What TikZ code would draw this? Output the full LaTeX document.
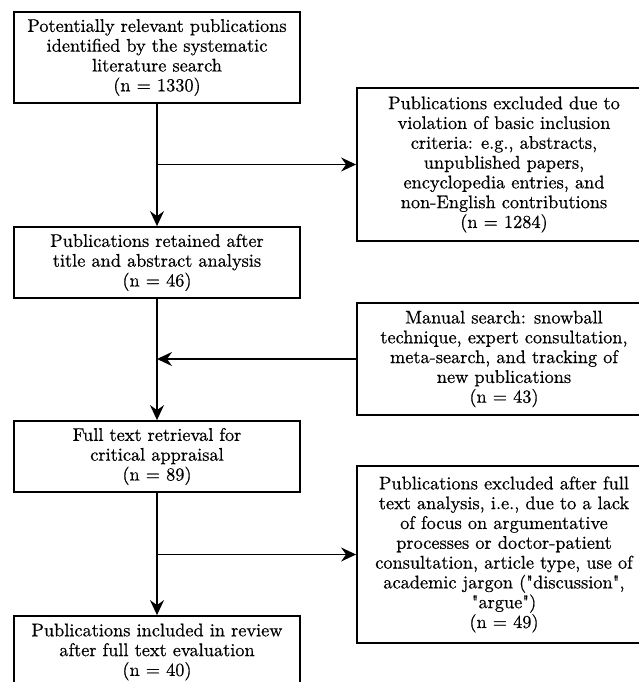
\documentclass[tikz,border=0pt]{standalone}
\usepackage{fontspec}
\setmainfont{lmroman10-regular.otf}[FakeBold=0.6]
\usetikzlibrary{arrows.meta}
\begin{document}
\begin{tikzpicture}[x=1pt,y=-1pt,
  box/.style={draw=black,line width=1.8pt,rectangle,align=center,inner sep=0pt,
    font=\fontsize{18.3}{19.8}\selectfont},
  arr/.style={line width=1.5pt,-{Stealth[length=15pt,width=14pt,inset=5pt]}}]
\useasboundingbox (0,0) rectangle (639,682);
\clip (0,0) rectangle (639,682);
\fill[white] (0,0) rectangle (639,682);
% left column
\node[box,minimum width=286pt,minimum height=91pt] (A) at (157,57.5)
  {Potentially relevant publications\\identified by the systematic\\literature search\\(n = 1330)};
\node[box,minimum width=286pt,minimum height=71pt] (B) at (157,262.5)
  {Publications retained after\\title and abstract analysis\\(n = 46)};
\node[box,minimum width=286pt,minimum height=71pt] (C) at (157,456.5)
  {Full text retrieval for\\critical appraisal\\(n = 89)};
\node[box,minimum width=286pt,minimum height=72pt] (D) at (157,652)
  {Publications included in review\\after full text evaluation\\(n = 40)};
% right column
\node[box,minimum width=294pt,minimum height=153pt] (R1) at (504,164.5)
  {Publications excluded due to\\violation of basic inclusion\\criteria: e.g., abstracts,\\unpublished papers,\\encyclopedia entries, and\\non-English contributions\\(n = 1284)};
\node[box,minimum width=294pt,minimum height=112pt] (R2) at (504,359)
  {Manual search: snowball\\technique, expert consultation,\\meta-search, and tracking of\\new publications\\(n = 43)};
\node[box,minimum width=294pt,minimum height=177pt] (R3) at (504,554.5)
  {Publications excluded after full\\text analysis, i.e., due to a lack\\of focus on argumentative\\processes or doctor-patient\\consultation, article type, use of\\academic jargon (\textquotedbl discussion\textquotedbl,\\\textquotedbl argue\textquotedbl)\\(n = 49)};
% connectors
\coordinate (j1) at (A.south |- R1.west);
\coordinate (j2) at (B.south |- R2.west);
\coordinate (j3) at (C.south |- R3.west);
\draw[arr] (A.south) -- (B.north);
\draw[arr] (j1) -- (R1.west);
\draw[arr] (B.south) -- (C.north);
\draw[arr] (R2.west) -- (j2);
\draw[arr] (C.south) -- (D.north);
\draw[arr] (j3) -- (R3.west);
\end{tikzpicture}
\end{document}
